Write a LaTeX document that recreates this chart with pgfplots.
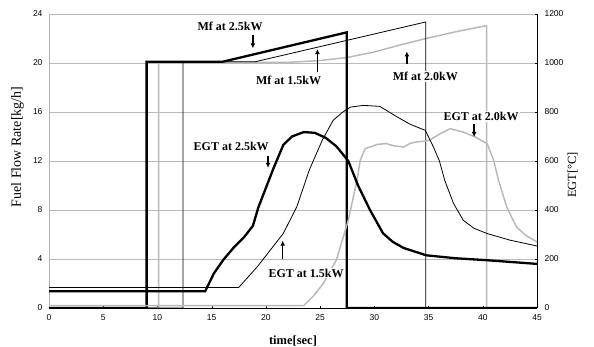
\documentclass[border=0pt]{standalone}
\usepackage{pgfplots}
\pgfplotsset{compat=1.18}
\usetikzlibrary{arrows.meta}
\usepackage{fontspec}
\setmainfont{Liberation Serif}
\newfontfamily\tickfont{Liberation Sans}
\begin{document}
\begin{tikzpicture}
\path[use as bounding box] (-49pt,-39pt) rectangle (545pt,308pt);
\pgfplotsset{
  base/.style={
    at={(0,0)}, anchor=south west,
    scale only axis, width=488pt, height=294pt,
    xmin=0, xmax=45,
    tick label style={font=\tickfont\fontsize{8.5}{9}\selectfont},
    /pgf/number format/assume math mode=true,
    /pgf/number format/1000 sep={},
    major tick length=2pt,
  },
  thickb/.style={black, line width=2.3pt},
  thinb/.style={black, line width=0.8pt},
  grayl/.style={gray!55, line width=1.5pt},
}
\begin{axis}[base,
  ymin=0, ymax=24, ytick={0,4,...,24},
  xtick={0,5,...,45},
  axis y line*=left,
  axis x line*=bottom,
  ymajorgrids, grid style={gray!55, line width=0.6pt},
  y axis line style={gray!60, line width=0.5pt},
  x axis line style={black, line width=0.8pt},
  ytick style={draw=none},
  xtick style={black},
  yticklabel style={xshift=-3pt},
  xticklabel style={yshift=-3pt},
]
% Mf at 2.0kW
\addplot[grayl] coordinates {(0,0)(10.1,0)(10.1,20.05)(22,20.05)(25,20.2)(27.5,20.45)(30,20.9)(32.5,21.5)(35,22.05)(37.5,22.55)(40.35,23.05)(40.35,0)(45,0)};
% Mf at 1.5kW
\addplot[thinb] coordinates {(0,0)(12.35,0)(12.35,20.1)(19.0,20.1)(34.75,23.35)(34.75,0)(45,0)};
% Mf at 2.5kW
\addplot[thickb] coordinates {(0,0)(9.0,0)(9.0,20.1)(16.0,20.1)(27.45,22.5)(27.45,0)(45,0)};
\end{axis}
\begin{axis}[base,
  ymin=0, ymax=1200, ytick={0,200,...,1200},
  axis y line*=right,
  axis x line=none,
  y axis line style={black, line width=0.8pt},
  ytick style={black},
  yticklabel style={xshift=4pt},
]
% EGT at 2.0kW
\addplot[grayl] coordinates {(0,10)(23.5,10)(24.4,50)(25.3,100)(26.5,196)(27.6,358)(28.4,522)(28.7,603)(29.15,650)(29.6,657)(30.3,668)(31.1,671)(31.8,662)(32.7,657)(33.3,672)(33.9,678)(34.5,680)(35.1,685)(36.1,712)(37.0,732)(38.2,718)(39.3,698)(40.4,671)(41.0,603)(41.45,522)(42.2,413)(43.1,331)(44.0,295)(45,270)};
% EGT at 1.5kW
\addplot[thinb] coordinates {(0,84)(17.5,84)(19.2,168)(21.6,304)(22.85,413)(24.0,563)(25.2,685)(26.2,766)(27.1,800)(27.8,820)(29.0,827)(30.5,823)(32.1,780)(33.3,750)(34.7,725)(35.45,657)(36.0,600)(36.5,520)(37.3,427)(38.2,358)(39.2,325)(40.4,304)(42.5,277)(45,253)};
% EGT at 2.5kW
\addplot[thickb] coordinates {(0,68)(14.4,68)(15.2,141)(16.1,198)(17.0,245)(18.0,290)(18.8,335)(19.3,410)(20.0,490)(20.7,570)(21.6,665)(22.4,700)(23.5,718)(24.5,715)(25.5,695)(26.5,660)(27.6,600)(28.5,500)(29.6,400)(30.8,305)(31.7,270)(32.7,245)(34.8,215)(37.5,203)(40.4,195)(45,180)};
% labels
\tikzset{lab/.style={font=\bfseries\fontsize{12}{12}\selectfont, inner sep=1pt},
  arr/.style={-{Latex[length=5pt,width=5pt]}, line width=1.5pt}}
\node[lab] at (axis cs:16.7,1149) {Mf at 2.5kW};
\draw[arr] (axis cs:18.8,1115) -- (axis cs:18.8,1060);
\node[lab, fill=white] at (axis cs:22.1,929) {Mf at 1.5kW};
\draw[arr] (axis cs:24.75,962) -- (axis cs:24.75,1057);
\node[lab, fill=white] at (axis cs:34.7,945) {Mf at 2.0kW};
\draw[arr] (axis cs:33.0,995) -- (axis cs:33.0,1047);
\node[lab, fill=white] at (axis cs:39.85,782) {EGT at 2.0kW};
\draw[arr] (axis cs:39.2,750) -- (axis cs:39.2,698);
\node[lab, fill=white] at (axis cs:16.8,660) {EGT at 2.5kW};
\draw[arr] (axis cs:20.2,620) -- (axis cs:20.2,572);
\node[lab, fill=white] at (axis cs:23.7,142) {EGT at 1.5kW};
\draw[arr] (axis cs:21.55,202) -- (axis cs:21.55,275);
\end{axis}
\node[rotate=90, font=\fontsize{14}{14}\selectfont] at (-31.5pt,161pt) {Fuel Flow Rate[kg/h]};
\node[rotate=90, font=\fontsize{12.5}{13}\selectfont] at (523.5pt,133pt) {EGT[°C]};
\node[font=\bfseries\fontsize{12.5}{13}\selectfont] at (244pt,-33pt) {time[sec]};
\end{tikzpicture}
\end{document}
